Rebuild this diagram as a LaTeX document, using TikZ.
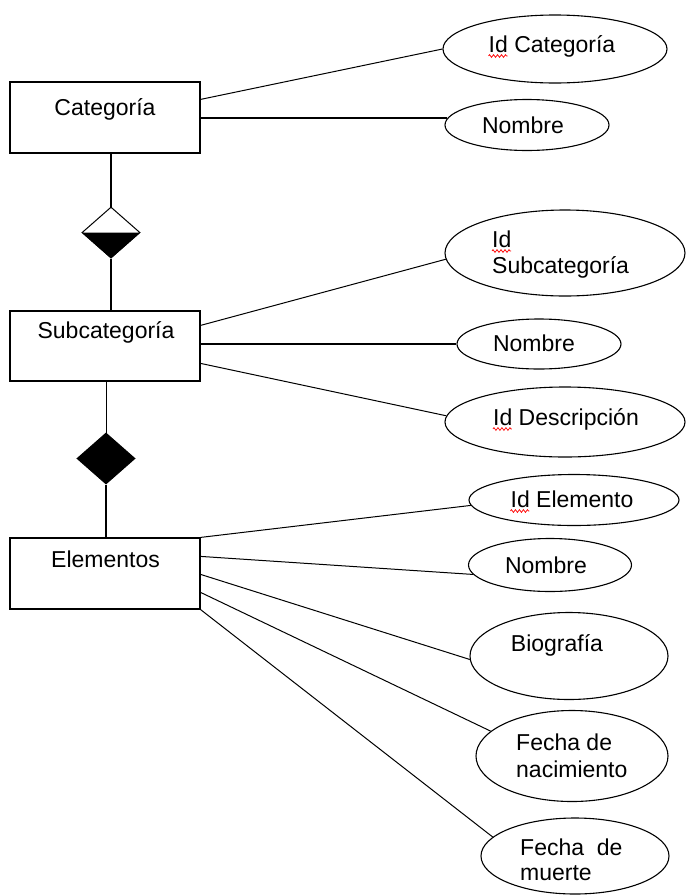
\documentclass[tikz,border=0pt]{standalone}
\usepackage{fontspec}
\setmainfont{Liberation Sans}
\usetikzlibrary{shapes.geometric,calc,decorations.pathmorphing}
\begin{document}
\begin{tikzpicture}[x=1pt,y=-1pt,
  entity/.style={draw, line width=1.2pt, minimum width=190pt, inner sep=0},
  attr/.style={draw, ellipse, line width=1.1pt, inner sep=0},
  lbl/.style={inner sep=0, font=\fontsize{23}{27}\selectfont},
  conn/.style={line width=1pt},
  hconn/.style={line width=1.6pt},
  rel/.style={draw, diamond, line width=1pt, inner sep=0, minimum width=58pt, minimum height=51pt},
  spell/.style={red, line width=0.7pt, decorate, decoration={zigzag, segment length=4pt, amplitude=1.4pt}}]
\useasboundingbox (0,0) rectangle (686,895);

% entities
\node[entity, minimum height=71pt] (cat) at (105,117.5) {};
\node[entity, minimum height=70pt] (sub) at (105,346) {};
\node[entity, minimum height=71pt] (elem) at (105,573.5) {};
\node[lbl, anchor=base] (tcat) at (105,115) {Categoría};
\node[lbl, anchor=base] (tsub) at (106,338) {Subcategoría};
\node[lbl, anchor=base] (telem) at (105.5,567) {Elementos};

% relationships
\node[rel] (d1) at (111,232.5) {};
\fill (d1.west) -- (d1.south) -- (d1.east) -- cycle;
\node[rel, fill=black] (d2) at (106,458.5) {};

% attributes
\node[attr, minimum width=224pt, minimum height=68pt] (e1) at (555,49) {};
\node[attr, minimum width=164pt, minimum height=51pt] (e2) at (527,125) {};
\node[attr, minimum width=240pt, minimum height=86pt] (e3) at (565,253) {};
\node[attr, minimum width=164pt, minimum height=50pt] (e4) at (539,344) {};
\node[attr, minimum width=240pt, minimum height=70pt] (e5) at (565,422) {};
\node[attr, minimum width=210pt, minimum height=51pt] (e6) at (574,500) {};
\node[attr, minimum width=163pt, minimum height=53pt] (e7) at (550,565) {};
\node[attr, minimum width=198pt, minimum height=87pt] (e8) at (569,656) {};
\node[attr, minimum width=192pt, minimum height=91pt] (e9) at (572,756) {};
\node[attr, minimum width=188pt, minimum height=76pt] (e10) at (575,856) {};

% attribute labels
\node[lbl, anchor=base] (t1) at (552,52) {Id Categoría};
\node[lbl, anchor=base] (t2) at (523,133) {Nombre};
\node[lbl, anchor=base west] (t3a) at (492,247) {Id};
\node[lbl, anchor=base west] (t3b) at (492,273) {Subcategoría};
\node[lbl, anchor=base] (t4) at (534,351) {Nombre};
\node[lbl, anchor=base] (t5) at (566,425) {Id Descripción};
\node[lbl, anchor=base] (t6) at (572,507) {Id Elemento};
\node[lbl, anchor=base] (t7) at (546,573) {Nombre};
\node[lbl, anchor=base] (t8) at (557,651) {Biografía};
\node[lbl, anchor=base west] (t9a) at (516,750) {Fecha de};
\node[lbl, anchor=base west] (t9b) at (516,777) {nacimiento};
\node[lbl, anchor=base west] (t10a) at (520,855) {Fecha\ \ de};
\node[lbl, anchor=base west] (t10b) at (520,880) {muerte};

% spell-check underlines
\draw[spell] ($(t1.base west)+(0,4)$) -- ++(19,0);
\draw[spell] ($(t3a.base west)+(0,4)$) -- ++(19,0);
\draw[spell] ($(t5.base west)+(0,4)$) -- ++(19,0);
\draw[spell] ($(t6.base west)+(0,4)$) -- ++(19,0);

% relationship connectors
\draw[hconn] (cat.south -| d1.north) -- (d1.north);
\draw[hconn] (d1.south) -- (d1.south |- sub.north);
\draw[conn] (sub.south -| d2.north) -- (d2.north);
\draw[hconn] (d2.south) -- (d2.south |- elem.north);

% attribute connectors
\draw[conn] ($(cat.north east)+(0,18)$) -- (e1.west);
\draw[hconn] (cat.east |- e2.175) -- (e2.175);
\draw[conn] ($(sub.north east)+(0,15)$) -- (e3.183);
\draw[hconn] (sub.east |- e4.west) -- (e4.west);
\draw[conn] ($(sub.north east)+(0,53)$) -- (e5.177);
\draw[conn] (elem.north east) -- (e6.183);
\draw[conn] ($(elem.north east)+(0,19)$) -- (e7.187);
\draw[conn] ($(elem.north east)+(0,37)$) -- (e8.182);
\draw[conn] ($(elem.north east)+(0,55)$) -- (e9.163);
\draw[conn] (elem.south east) -- (e10.167);
\end{tikzpicture}
\end{document}
